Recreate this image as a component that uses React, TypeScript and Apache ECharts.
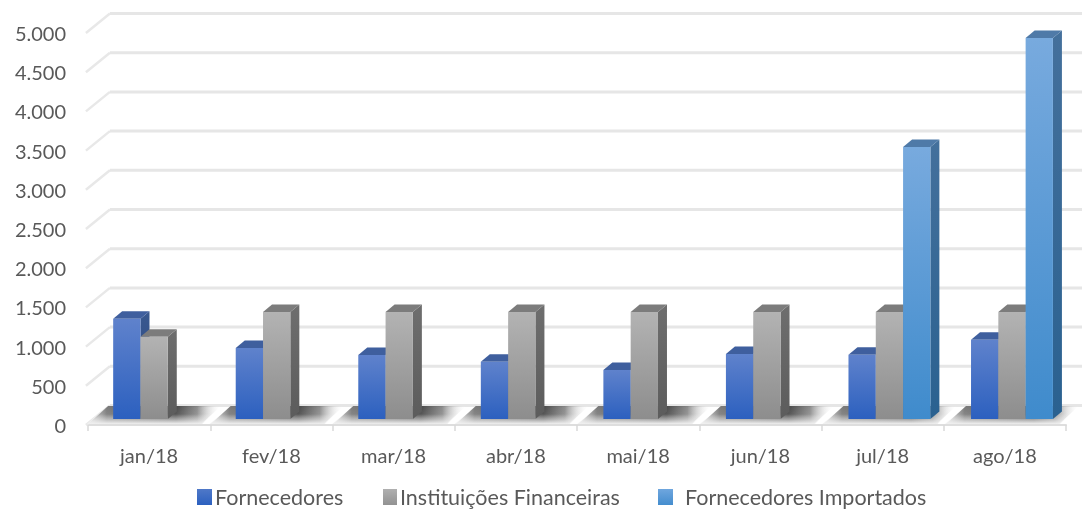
import React, { useEffect, useRef } from "react";
import * as echarts from "echarts";

const categories = ["jan/18", "fev/18", "mar/18", "abr/18", "mai/18", "jun/18", "jul/18", "ago/18"];
const fornecedores = [1280, 905, 815, 730, 625, 830, 820, 1010];
const instituicoes = [1050, 1365, 1365, 1365, 1365, 1365, 1365, 1365];
const importados = [null, null, null, null, null, null, 3470, 4860];
const yTicks = [0, 500, 1000, 1500, 2000, 2500, 3000, 3500, 4000, 4500, 5000];
const seriesNames = ["Fornecedores", "Instituições Financeiras", "Fornecedores Importados"];

const DX = 9, DY = 7.5;
const BAR_W = 27.3;
const palettes = [
  { legend: ["#4f78c8", "#2c60bf"], front: ["#5f82cc", "#2c60bf"], top: "#3f5f9e", side: ["#39588f", "#27457f"] },
  { legend: ["#b0b0b0", "#929292"], front: ["#b3b3b3", "#8d8d8d"], top: "#7c7c7c", side: ["#6e6e6e", "#5c5c5c"] },
  { legend: ["#6fa6de", "#448dce"], front: ["#78aade", "#3f8bcc"], top: "#4f7aa8", side: ["#44709c", "#2a6190"] },
];
const grad = (c: string[]) => new echarts.graphic.LinearGradient(0, 0, 0, 1, [
  { offset: 0, color: c[0] }, { offset: 1, color: c[1] },
]);

const barItem = (idx: number) => (params: any, api: any) => {
  const i = api.value(0), v = api.value(1);
  if (v == null || isNaN(v)) return null;
  const p0 = api.coord([i, 0]), p1 = api.coord([i, v]);
  const yb = p0[1] - 6;
  const yt = yb - (p0[1] - p1[1]);
  const x0 = p0[0] + 5 + i * 0.3 - 1.5 * BAR_W + idx * BAR_W;
  const x1 = x0 + BAR_W;
  const pal = palettes[idx];
  return {
    type: "group",
    children: [
      { type: "polygon", shape: { points: [[x1, yb], [x1, yt], [x1 + DX, yt - DY], [x1 + DX, yb - DY]] }, style: { fill: grad(pal.side) } },
      { type: "polygon", shape: { points: [[x0, yt], [x1, yt], [x1 + DX, yt - DY], [x0 + DX, yt - DY]] }, style: { fill: pal.top } },
      { type: "rect", shape: { x: x0, y: yt, width: BAR_W, height: yb - yt }, style: { fill: grad(pal.front) } },
    ],
  };
};

const wallItem = (params: any, api: any) => {
  const v = api.value(0);
  const p = api.coord([0, v]);
  const x = p[0] - 61.2;
  return {
    type: "group",
    children: [
      { type: "line", shape: { x1: x - 2, y1: p[1], x2: x + 22, y2: p[1] - 19.5 }, style: { stroke: "#e8e8e8", lineWidth: 2.5 } },
      { type: "line", shape: { x1: x + 22, y1: p[1] - 19.5, x2: 1082, y2: p[1] - 19.5 }, style: { stroke: "#e6e6e6", lineWidth: 3 } },
    ],
  };
};

const floorItem = (params: any, api: any) => {
  const i = api.value(0);
  const p = api.coord([i, 0]);
  const cx = p[0] + i * 0.3;
  const yF = p[1] - 1, yB = p[1] - 19;
  const shadow = new echarts.graphic.LinearGradient(0, 0, 1, 0, [
    { offset: 0, color: "rgba(150,150,150,0.35)" },
    { offset: 0.14, color: "#7a7a7a" },
    { offset: 0.66, color: "#484848" },
    { offset: 0.82, color: "rgba(90,90,90,0.7)" },
    { offset: 1, color: "rgba(255,255,255,0)" },
  ]);
  const fade = new echarts.graphic.LinearGradient(0, 0, 0, 1, [
    { offset: 0, color: "rgba(255,255,255,0)" },
    { offset: 0.45, color: "rgba(255,255,255,0.08)" },
    { offset: 0.75, color: "rgba(245,245,245,0.55)" },
    { offset: 1, color: "rgba(240,240,240,1)" },
  ]);
  return {
    type: "group",
    children: [
      { type: "polygon", shape: { points: [[cx - 61, yF], [cx - 41, yB], [cx + 72, yB], [cx + 52, yF]] }, style: { fill: shadow } },
      { type: "polygon", shape: { points: [[cx - 62, yF], [cx - 42, yB], [cx + 73, yB], [cx + 53, yF]] }, style: { fill: fade } },
    ],
  };
};

export default function App() {
  const ref = useRef<HTMLDivElement>(null);
  useEffect(() => {
    const chart = echarts.init(ref.current!, undefined, { renderer: "svg" });
    const font = "Lato";
    const legendCommon = {
      orient: "horizontal", top: 486, padding: 0, itemWidth: 15, itemHeight: 16, itemGap: 0,
      textStyle: { fontFamily: font, fontSize: 21.5, lineHeight: 19, color: "#595959", padding: [0, 0, 0, -2] },
      icon: "rect",
    };
    chart.setOption({
      animation: false,
      backgroundColor: "#fff",
      grid: { left: 88, top: 33, width: 978, height: 392 },
      legend: [
        { ...legendCommon, left: 197, data: [seriesNames[0]] },
        { ...legendCommon, left: 383, itemWidth: 14, data: [seriesNames[1]] },
        { ...legendCommon, left: 658, textStyle: { ...legendCommon.textStyle, padding: [0, 0, 0, 7] }, data: [seriesNames[2]] },
      ],
      xAxis: {
        type: "category", data: categories,
        axisLine: { lineStyle: { color: "#dedede", width: 2 } },
        axisTick: { show: true, length: 6, alignWithLabel: false, lineStyle: { color: "#d9d9d9", width: 1.5 } },
        axisLabel: { fontFamily: font, fontSize: 20, color: "#595959", margin: 20 },
      },
      yAxis: {
        type: "value", min: 0, max: 5000, interval: 500,
        axisLine: { show: false }, axisTick: { show: false }, splitLine: { show: false },
        axisLabel: {
          fontFamily: font, fontSize: 20, color: "#595959", margin: 22, padding: [3, 0, 0, 0],
          formatter: (v: number) => v.toLocaleString("de-DE"),
        },
      },
      series: [
        { type: "custom", silent: true, z: 1, encode: { y: 0 }, data: yTicks.map((v) => [v]), renderItem: wallItem, clip: false },
        { type: "custom", silent: true, z: 2, data: categories.map((_, i) => [i]), renderItem: floorItem, clip: false },
        ...[fornecedores, instituicoes, importados].map((vals, idx) => ({
          type: "custom", name: seriesNames[idx], z: 3 + idx, silent: true, clip: false,
          itemStyle: { color: grad(palettes[idx].legend) },
          encode: { x: 0, y: 1 },
          data: vals.map((v, i) => [i, v]),
          renderItem: barItem(idx),
        })),
      ],
    });
    return () => chart.dispose();
  }, []);
  return <div ref={ref} style={{ width: 1082, height: 510, position: "absolute", left: 0, top: 0, filter: "blur(0.5px)" }} />;
}
